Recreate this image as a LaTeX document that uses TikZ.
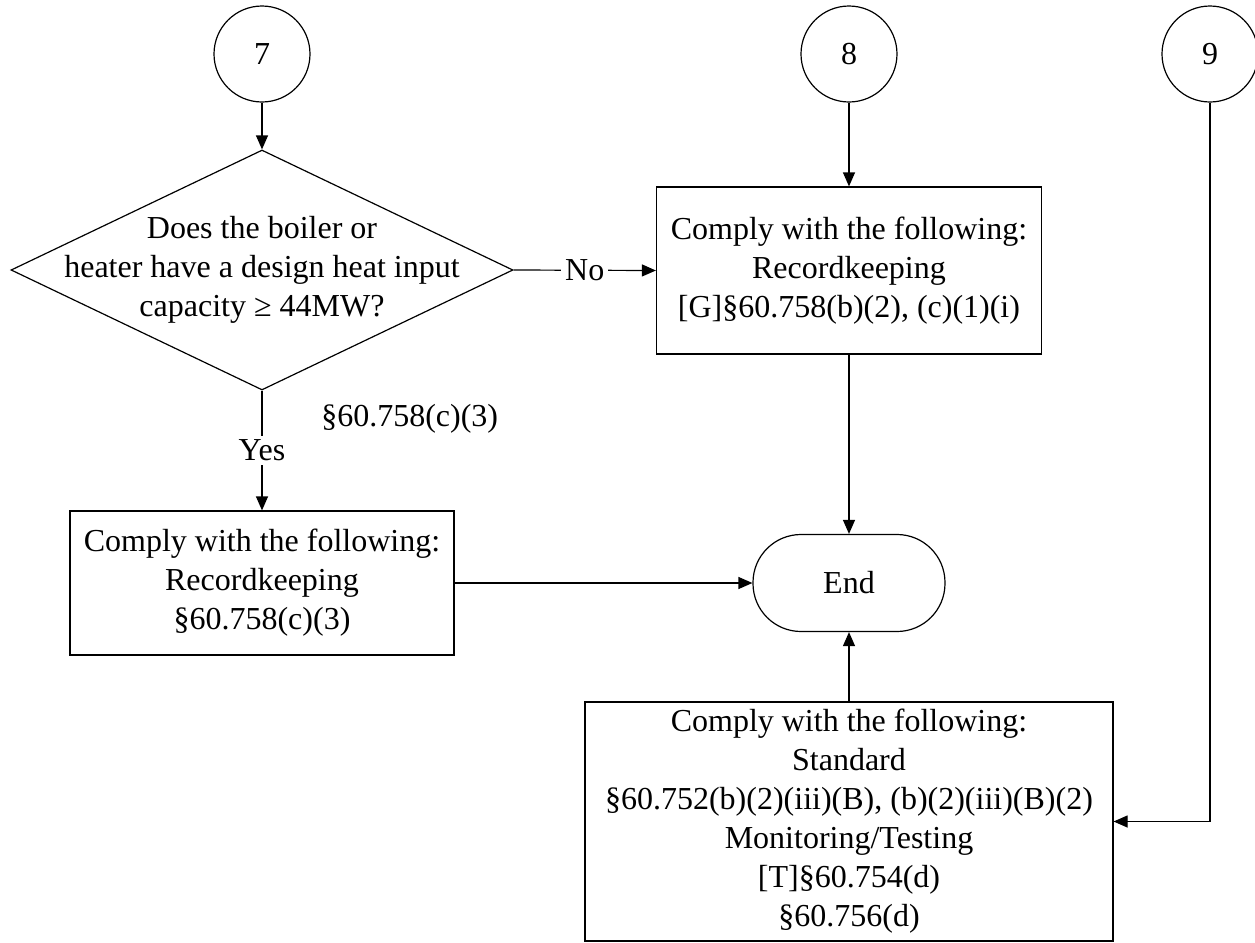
\documentclass[tikz,border=0pt]{standalone}
\usepackage{fontspec}
\setmainfont{Liberation Serif}
\usetikzlibrary{shapes.geometric,arrows.meta}

\begin{document}
\begin{tikzpicture}[x=0.5pt,y=-0.5pt,line width=0.6pt,
    every node/.style={font=\flowfontsize},
    box/.style={draw,rectangle,align=center,inner sep=0},
    conn/.style={draw,circle,minimum size=48pt,inner sep=0},
    flow/.style={-{Triangle[length=7pt,width=6pt]}},
    tag/.style={fill=white,inner sep=2pt}]
    \providecommand{\flowfontsize}{\fontsize{16pt}{19.5pt}\selectfont}
    \pgfmathsetmacro{\leftcol}{262}
    \pgfmathsetmacro{\midcol}{849}
    \useasboundingbox (0,0) rectangle (1255,943);
    % off-page connectors
    \node[conn] (c7) at (\leftcol,54) {7};
    \node[conn] (c8) at (\midcol,54) {8};
    \node[conn] (c9) at (1210,54) {9};
    % decision
    \node[diamond,draw,minimum width=251pt,minimum height=120pt,inner sep=0] (q) at (\leftcol,270) {};
    \node[align=center] (qtext) at (q) {Does the boiler or\\heater have a design heat input\\capacity ≥ 44MW?};
    \node[anchor=west] (qref) at (314,419) {§60.758(c)(3)};
    % requirement boxes
    \node[box,minimum width=192.5pt,minimum height=83.5pt] (b8) at (\midcol,270.5)
        {Comply with the following:\\Recordkeeping\\{[G]}§60.758(b)(2), (c)(1)(i)};
    \node[box,minimum width=192pt,minimum height=72pt] (b7) at (\leftcol,583)
        {Comply with the following:\\Recordkeeping\\§60.758(c)(3)};
    \node[box,minimum width=264pt,minimum height=119.5pt] (b9) at (\midcol,821.5)
        {Comply with the following:\\Standard\\§60.752(b)(2)(iii)(B), (b)(2)(iii)(B)(2)\\Monitoring/Testing\\{[T]}§60.754(d)\\§60.756(d)};
    \node[draw,rounded corners=24pt,minimum width=96pt,minimum height=48.5pt] (end) at (\midcol,583) {End};
    % connectors
    \draw[flow] (c7) -- (q);
    \draw[flow] (c8) -- (b8);
    \draw[flow] (q.east) -- node[tag]{No} (b8.west);
    \draw[flow] (q.south) -- node[tag]{Yes} (b7.north);
    \draw[flow] (b8) -- (end);
    \draw[flow] (b7) -- (end);
    \draw[flow] (b9) -- (end);
    \draw[flow] (c9) |- (b9);
\end{tikzpicture}
\end{document}
